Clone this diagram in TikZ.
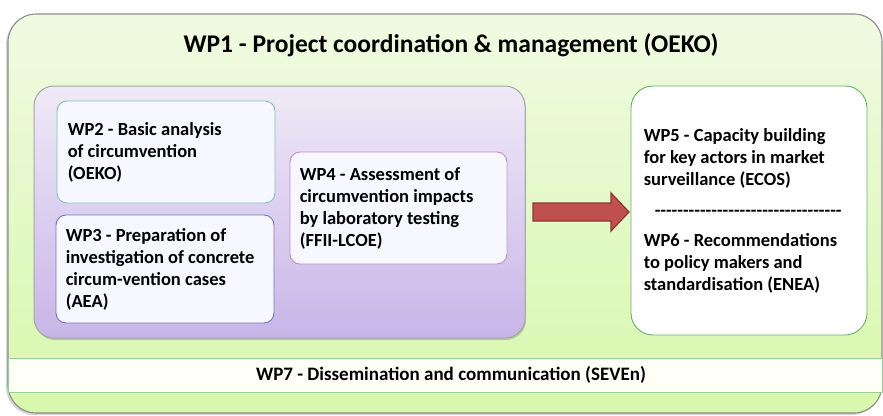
\documentclass[tikz,border=0pt]{standalone}
\usepackage{fontspec}
\setmainfont{Carlito}
\usetikzlibrary{shadows}
\definecolor{wpgreentop}{HTML}{F0FAE2}
\definecolor{wpgreenbot}{HTML}{D7F8AC}
\definecolor{wppurpletop}{HTML}{EFEAF7}
\definecolor{wppurplebot}{HTML}{C8B5E8}
\definecolor{arrowred}{HTML}{C0504D}
\definecolor{arrowdark}{HTML}{8E3533}
\tikzstyle{outer box}  = [rounded corners=28, draw=black!45, line width=1.1, top color=wpgreentop, bottom color=wpgreenbot, drop shadow={shadow xshift=-2pt, shadow yshift=-2pt, opacity=0.35}]
\tikzstyle{group box}  = [rounded corners=20, draw=black!35, line width=1, top color=wppurpletop, bottom color=wppurplebot, drop shadow={shadow xshift=1pt, shadow yshift=-2pt, opacity=0.4}]
\tikzstyle{wp box}     = [rounded corners=10, line width=0.9, fill=white!97!blue]
\tikzstyle{wp text}    = [align=left, inner sep=0, anchor=west, font=\fontsize{18.5}{22}\selectfont\bfseries]
\tikzstyle{bar box}    = [draw=green!50!black!40, line width=0.9, fill=yellow!3]

\begin{document}
\begin{tikzpicture}[x=1pt, y=-1pt, label distance=0]
    \useasboundingbox (0,0) rectangle (883,415);

    % WP1 frame and title
    \node(wp1)[outer box, minimum width=874, minimum height=399] at (445,213.5){};
    \node(wp1title)[font=\fontsize{25.5}{30}\selectfont\bfseries] at (451,45){WP1 - Project coordination \& management (OEKO)};

    % Group of analysis work packages
    \node(group)[group box, minimum width=491, minimum height=252] at (279.5,212){};
        \node(wp2)[wp box, draw=teal!50, minimum width=218, minimum height=102,
            label={[wp text, xshift=11]west:{WP2 - Basic analysis\\of circumvention\\(OEKO)}}] at (166,152){};
        \node(wp3)[wp box, draw=blue!35!gray!80, minimum width=218, minimum height=108,
            label={[wp text, xshift=10]west:{WP3 - Preparation of\\investigation of concrete\\circum-vention cases\\(AEA)}}] at (165,269){};
        \node(wp4)[wp box, draw=violet!45, minimum width=217, minimum height=112,
            label={[wp text, xshift=10]west:{WP4 - Assessment of\\circumvention impacts\\by laboratory testing\\(FFII-LCOE)}}] at (398.5,208){};

    % Capacity building and recommendations
    \node(wp56)[wp box, draw=green!50!black!60, fill=white, rounded corners=22, minimum width=236, minimum height=249,
        label={[wp text, xshift=13]west:{WP5 - Capacity building\\for key actors in market\\surveillance (ECOS)\\[9pt]
            \hspace*{11pt}\foreach \i in {1,...,33}{\mbox{-}}\\[8pt]
            WP6 - Recommendations\\to policy makers and\\standardisation (ENEA)}}] at (749,210.5){};

    % Block arrow between the two groups
    \draw[arrowdark, line width=1.2, fill=arrowred]
        (533,203) -- (611,203) -- (611,193) -- (629,212) -- (611,231) -- (611,221) -- (533,221) -- cycle;

    % Dissemination bar
    \node(wp7)[bar box, minimum width=874, minimum height=34,
        label={[xshift=6, font=\fontsize{19}{22}\selectfont\bfseries]center:WP7 - Dissemination and communication (SEVEn)}] at (445,375){};

\end{tikzpicture}
\end{document}
